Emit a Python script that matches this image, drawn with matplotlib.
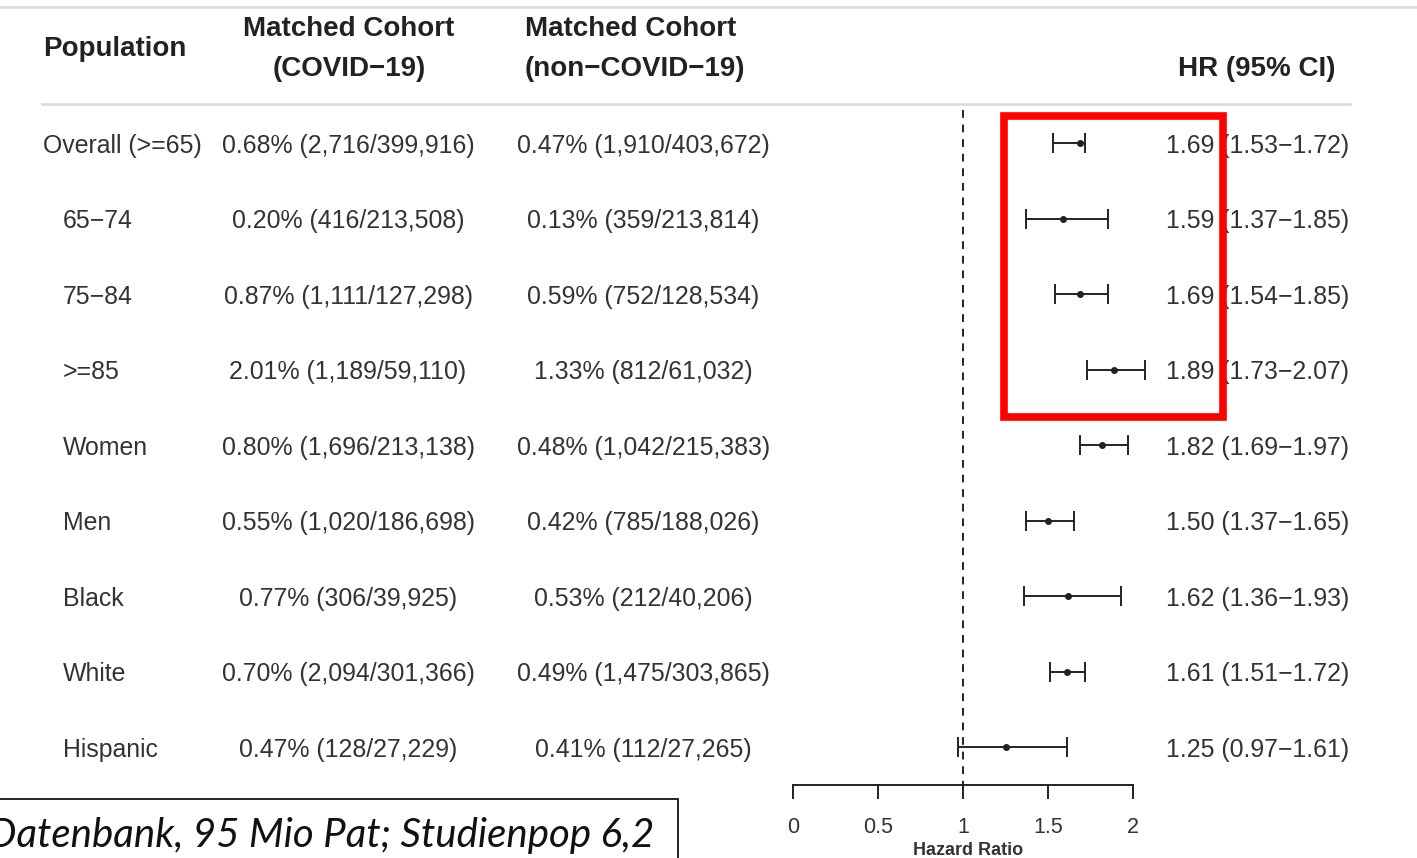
import matplotlib
matplotlib.use("Agg")
import matplotlib.pyplot as plt
from matplotlib.patches import Rectangle
from matplotlib.lines import Line2D
from matplotlib.transforms import blended_transform_factory

plt.rcParams['font.family'] = ['Liberation Sans', 'DejaVu Sans']

W, H = 1417, 858

# data
groups = ["Overall (>=65)", "65\u221274", "75\u221284", ">=85", "Women", "Men",
          "Black", "White", "Hispanic"]
covid = ["0.68% (2,716/399,916)", "0.20% (416/213,508)", "0.87% (1,111/127,298)",
         "2.01% (1,189/59,110)", "0.80% (1,696/213,138)", "0.55% (1,020/186,698)",
         "0.77% (306/39,925)", "0.70% (2,094/301,366)", "0.47% (128/27,229)"]
non_covid = ["0.47% (1,910/403,672)", "0.13% (359/213,814)", "0.59% (752/128,534)",
             "1.33% (812/61,032)", "0.48% (1,042/215,383)", "0.42% (785/188,026)",
             "0.53% (212/40,206)", "0.49% (1,475/303,865)", "0.41% (112/27,265)"]
hr = [1.69, 1.59, 1.69, 1.89, 1.82, 1.50, 1.62, 1.61, 1.25]
lo = [1.53, 1.37, 1.54, 1.73, 1.69, 1.37, 1.36, 1.51, 0.97]
hi = [1.72, 1.85, 1.85, 2.07, 1.97, 1.65, 1.93, 1.72, 1.61]
xticks = [0, 0.5, 1, 1.5, 2]

fig = plt.figure(figsize=(W / 100, H / 100), dpi=100)


def fx(px):
    return px / W


def fy(py):
    return 1 - py / H


# forest axes: x 0..2 spans px 793..1133, rows from y=104 to 785
ax = fig.add_axes([fx(793), fy(785), fx(1133) - fx(793), fy(104) - fy(785)])
ax.set_xlim(0, 2)
ax.set_ylim(8.5, -0.52)
for s in ["top", "left", "right"]:
    ax.spines[s].set_visible(False)
ax.spines["bottom"].set_bounds(0, 2)
ax.spines["bottom"].set_linewidth(1.4)
ax.spines["bottom"].set_color("#222222")
ax.set_yticks([])
ax.set_xticks(xticks)
ax.set_xticklabels(["0", "0.5", "1", "1.5", "2"])
ax.tick_params(axis="x", direction="out", length=10, width=1.4, color="#222222",
               labelsize=15.5, labelcolor="#333333", pad=13)
ax.set_xlabel("Hazard Ratio", fontsize=13, fontweight="bold", color="#333333")
ax.xaxis.set_label_coords(0.515, -0.084)
ax.patch.set_alpha(0)

rows = list(range(len(groups)))
ax.plot([1, 1], [-0.44, 8.5], linestyle=(0, (4, 3.5)), color="#222222", lw=1.4,
        clip_on=False)
ax.errorbar(hr, rows, xerr=[[h - l for h, l in zip(hr, lo)],
                            [u - h for h, u in zip(hr, hi)]],
            fmt="o", ms=4, color="#222222", ecolor="#222222", elinewidth=1.4,
            capsize=7.5, capthick=1.4, clip_on=False)

# table text, y in row units
tr = blended_transform_factory(fig.transFigure, ax.transData)
body = dict(fontsize=17.9, color="#333333", va="center_baseline", transform=tr)
for i in rows:
    xg = 43 if i == 0 else 63
    ax.text(fx(xg), i, groups[i], ha="left", **body)
    ax.text(fx(348), i, covid[i], ha="center", **body)
    ax.text(fx(643.5), i, non_covid[i], ha="center", **body)
    ax.text(fx(1349), i, f"{hr[i]:.2f} ({lo[i]:.2f}\u2212{hi[i]:.2f})",
            ha="right", **body)

head = dict(fontsize=20, fontweight="bold", color="#222222", va="center")
fig.text(fx(43), fy(49), "Population", ha="left", **head)
fig.text(fx(349), fy(29), "Matched Cohort", ha="center", **head)
fig.text(fx(349), fy(69), "(COVID\u221219)", ha="center", **head)
fig.text(fx(525), fy(29), "Matched Cohort", ha="left", **head)
fig.text(fx(525), fy(69), "(non\u2212COVID\u221219)", ha="left", **head)
fig.text(fx(1336), fy(69), "HR (95% CI)", ha="right", **head)

# rules
fig.add_artist(Line2D([0, 1], [fy(7), fy(7)], color="#dcdcdc", lw=2))
fig.add_artist(Line2D([fx(42), fx(1350)], [fy(104), fy(104)], color="#dcdcdc", lw=2))

# red highlight box
fig.add_artist(Rectangle((fx(1004), fy(417)), fx(1223) - fx(1004), fy(116) - fy(417),
                         fill=False, edgecolor="#ff0000", lw=5.5,
                         transform=fig.transFigure, zorder=10))

# bottom note box
fig.add_artist(Rectangle((fx(-5), fy(865)), fx(678) - fx(-5), fy(799) - fy(865),
                         fill=True, facecolor="white", edgecolor="#111111", lw=1.3,
                         transform=fig.transFigure, zorder=9))
fig.text(fx(-12), fy(836), "Datenbank, 95 Mio Pat; Studienpop 6,2",
         ha="left", va="center", fontsize=29, style="italic", color="#111111",
         family=["Lato", "DejaVu Sans"], zorder=11)

fig.savefig("out.png", dpi=100, facecolor="white")
